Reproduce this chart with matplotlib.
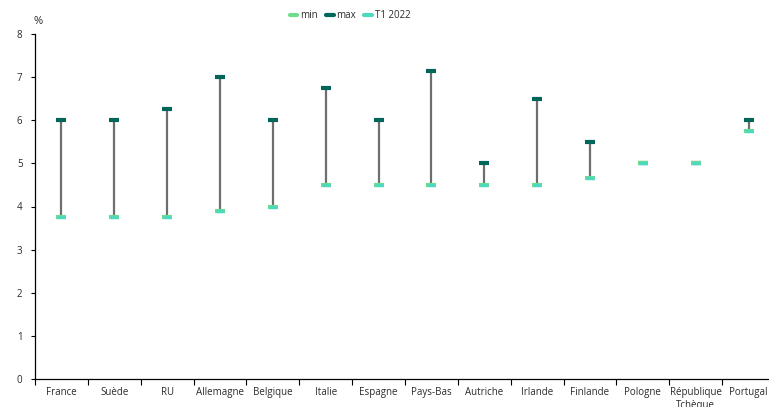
import matplotlib.pyplot as plt
from matplotlib.lines import Line2D

countries = ["France", "Suède", "RU", "Allemagne", "Belgique", "Italie", "Espagne",
             "Pays-Bas", "Autriche", "Irlande", "Finlande", "Pologne",
             "République\nTchèque", "Portugal"]
rate_min = [3.75, 3.75, 3.75, 3.9, 4.0, 4.5, 4.5, 4.5, 4.5, 4.5, 4.65, 5.0, 5.0, 5.75]
rate_max = [6.0, 6.0, 6.25, 7.0, 6.0, 6.75, 6.0, 7.15, 5.0, 6.5, 5.5, 5.0, 5.0, 6.0]
rate_t1 = [3.75, 3.75, 3.75, 3.9, 4.0, 4.5, 4.5, 4.5, 4.5, 4.5, 4.65, 5.0, 5.0, 5.75]

c_min = "#6fdc8c"
c_max = "#00665a"
c_t1 = "#4dd9bf"

plt.rcParams["font.family"] = ["Open Sans", "DejaVu Sans"]
plt.rcParams["font.size"] = 7

fig = plt.figure(figsize=(7.69, 4.07), dpi=100)
ax = fig.add_axes([35 / 769, (407 - 379) / 407, 740 / 769, 345 / 407])

x = range(len(countries))
ax.vlines(x, rate_min, rate_max, color="#6e6e6e", linewidth=1.6, zorder=1)
mk = dict(linestyle="none", marker="_", markersize=7, markeredgewidth=3.0, zorder=3)
ax.plot(x, rate_max, color=c_max, **mk)
ax.plot(x, rate_min, color=c_min, **mk)
ax.plot(x, rate_t1, color=c_t1, markersize=5.8, markeredgewidth=2.4,
        linestyle="none", marker="_", zorder=4)

ax.set_xlim(-0.5, len(countries) - 0.5)
ax.set_ylim(0, 8)
ax.set_yticks(range(0, 9))
# category boundaries carry the tick marks, centres carry the names
ax.set_xticks([i + 0.5 for i in range(-1, len(countries))], minor=False)
ax.set_xticklabels([])
ax.set_xticks(list(x), minor=True)
ax.set_xticklabels(countries, minor=True)
ax.tick_params(axis="x", which="major", length=4, width=0.8, direction="out")
ax.tick_params(axis="x", which="minor", length=0, pad=6, labelcolor="#2b2b2b")
ax.tick_params(axis="y", length=3, width=0.8, labelcolor="#2b2b2b", pad=10)
for lab in ax.get_yticklabels():
    lab.set_horizontalalignment("left")
for side in ("top", "right"):
    ax.spines[side].set_visible(False)
ax.spines["left"].set_linewidth(0.9)
ax.spines["bottom"].set_linewidth(0.9)

fig.text(34 / 769, 1 - 22 / 407, "%", fontsize=8, color="#2b2b2b", ha="left", va="center")

handles = [Line2D([], [], color=c_min, linewidth=3, solid_capstyle="round"),
           Line2D([], [], color=c_max, linewidth=3, solid_capstyle="round"),
           Line2D([], [], color=c_t1, linewidth=3, solid_capstyle="round")]
fig.legend(handles, ["min", "max", "T1 2022"], loc="center", ncol=3,
           bbox_to_anchor=(350 / 769, 1 - 16 / 407), frameon=False,
           handlelength=0.8, handletextpad=0.3, columnspacing=0.8, fontsize=7,
           labelcolor="#2b2b2b")

fig.savefig("out.png", dpi=100)
